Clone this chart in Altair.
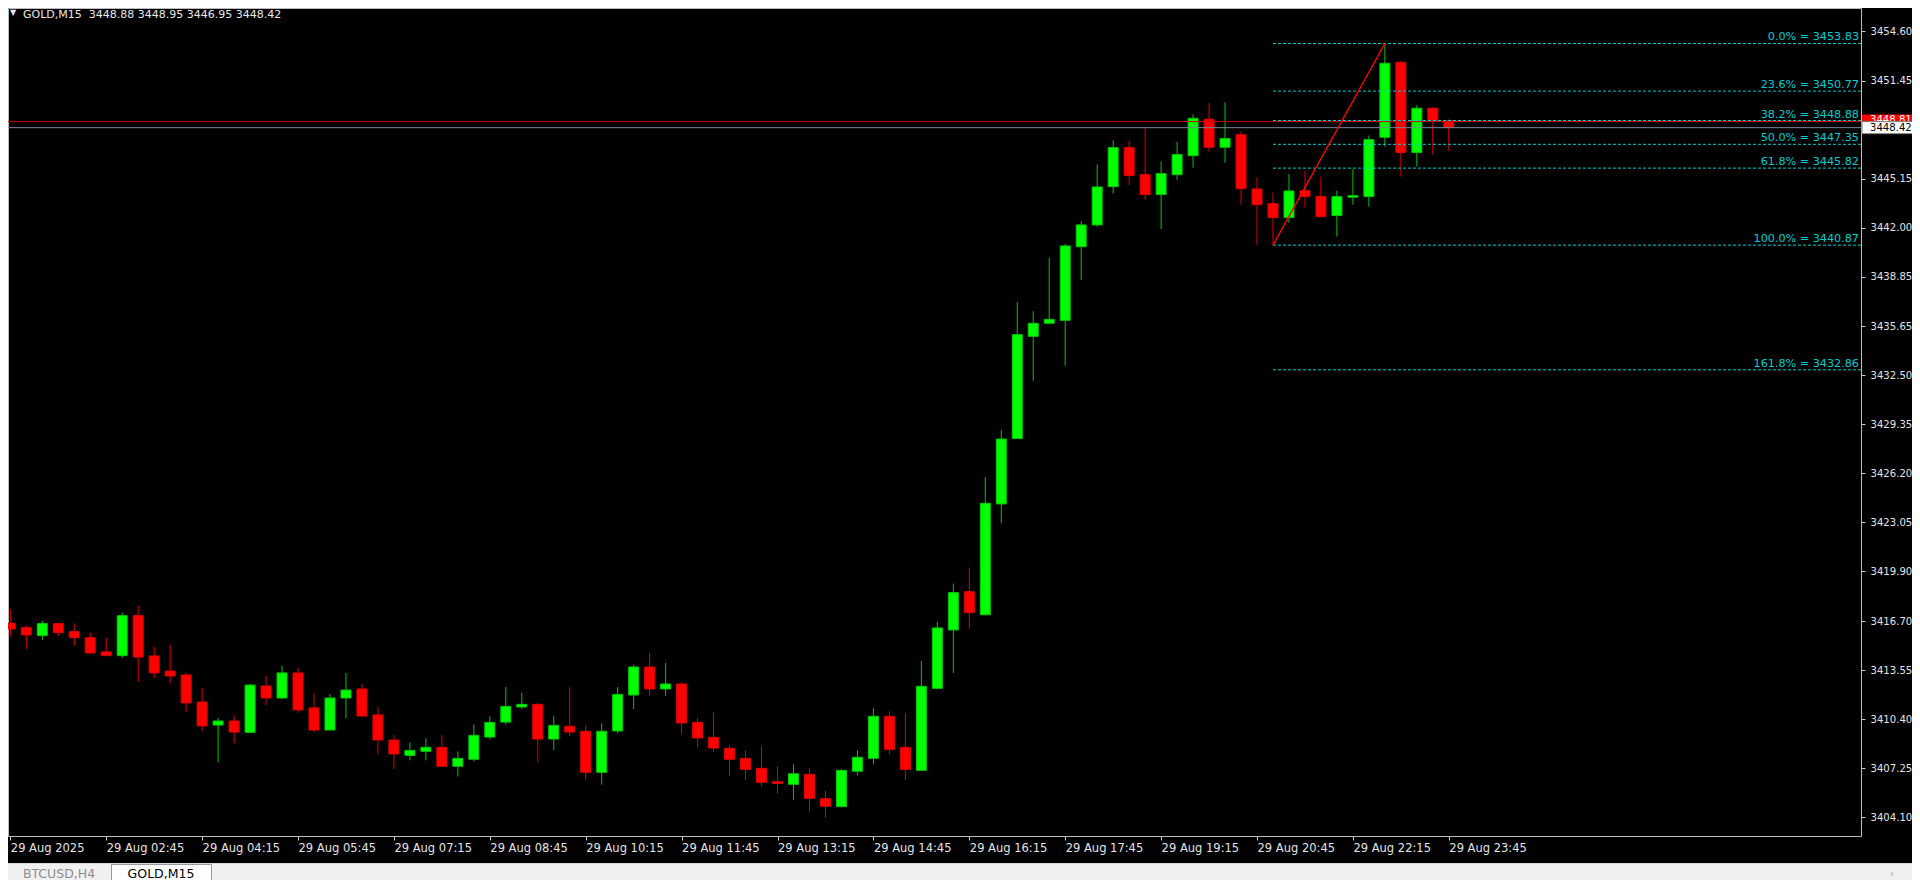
import altair as alt
import pandas as pd

# ---------------- data (GOLD, M15, 29 Aug 2025 01:15 .. 23:45) ----------------
bar_index = list(range(91))

opens = [3416.57, 3416.29, 3415.78, 3416.55, 3416.03, 3415.65, 3414.73, 3414.49, 3417.06, 3414.47,
         3413.50, 3413.25, 3411.51, 3410.03, 3410.29, 3409.56, 3412.54, 3411.77, 3413.38, 3411.13,
         3409.71, 3411.77, 3412.35, 3410.68, 3409.07, 3408.08, 3408.34, 3408.60, 3407.38, 3407.83,
         3409.26, 3410.22, 3411.19, 3411.36, 3409.13, 3409.95, 3409.63, 3406.99, 3409.65, 3411.96,
         3413.76, 3412.35, 3412.67, 3410.20, 3409.24, 3408.53, 3407.89, 3407.25, 3406.39, 3406.22,
         3406.86, 3405.30, 3404.79, 3407.06, 3407.89, 3410.59, 3408.60, 3407.12, 3412.39, 3416.14,
         3418.60, 3417.12, 3424.24, 3428.44, 3435.01, 3435.85, 3436.04, 3440.77, 3442.17, 3444.63,
         3447.14, 3445.40, 3444.12, 3445.40, 3446.62, 3448.96, 3447.16, 3447.97, 3444.48, 3443.54,
         3442.64, 3444.37, 3443.99, 3442.77, 3443.95, 3443.99, 3447.80, 3452.62, 3446.82, 3449.67,
         3448.88]

highs = [3417.49, 3416.42, 3416.72, 3416.55, 3416.57, 3415.97, 3415.63, 3417.25, 3417.70, 3415.05,
         3415.18, 3413.38, 3412.41, 3410.48, 3410.68, 3412.67, 3413.18, 3413.83, 3413.70, 3412.03,
         3412.03, 3413.38, 3412.67, 3411.19, 3409.39, 3408.92, 3409.18, 3409.37, 3408.34, 3410.07,
         3410.59, 3412.47, 3412.09, 3411.45, 3410.59, 3412.47, 3410.01, 3410.14, 3412.47, 3413.89,
         3414.66, 3414.02, 3412.80, 3410.48, 3410.85, 3408.73, 3408.40, 3408.66, 3407.38, 3407.50,
         3407.25, 3405.81, 3407.18, 3408.41, 3411.11, 3410.91, 3410.78, 3414.15, 3416.65, 3419.12,
         3420.15, 3425.97, 3428.99, 3437.22, 3436.62, 3440.05, 3440.95, 3442.42, 3446.05, 3447.61,
         3447.59, 3448.38, 3446.24, 3447.52, 3449.28, 3449.99, 3450.05, 3448.17, 3445.21, 3444.25,
         3445.45, 3445.66, 3445.27, 3444.37, 3445.75, 3447.91, 3453.83, 3452.71, 3449.86, 3449.73,
         3448.95]

lows = [3415.71, 3414.92, 3415.50, 3415.75, 3415.13, 3414.66, 3414.49, 3414.34, 3412.80, 3413.05,
        3412.73, 3410.87, 3409.65, 3407.63, 3408.86, 3409.56, 3411.32, 3411.71, 3410.81, 3409.58,
        3409.71, 3410.48, 3410.61, 3408.17, 3407.21, 3407.76, 3407.76, 3407.38, 3406.73, 3407.70,
        3409.11, 3410.07, 3411.06, 3407.63, 3408.40, 3409.33, 3406.52, 3406.20, 3409.50, 3411.06,
        3411.90, 3411.90, 3409.43, 3408.60, 3408.28, 3406.73, 3406.50, 3406.09, 3405.64, 3405.23,
        3404.46, 3404.08, 3404.72, 3406.80, 3407.51, 3408.15, 3406.48, 3407.12, 3412.33, 3413.38,
        3416.23, 3417.06, 3422.99, 3428.44, 3432.16, 3435.85, 3433.13, 3438.63, 3442.05, 3444.18,
        3444.74, 3443.80, 3441.91, 3445.08, 3445.85, 3446.88, 3446.17, 3443.47, 3440.90, 3440.87,
        3442.30, 3443.28, 3442.70, 3441.42, 3443.47, 3443.35, 3447.20, 3445.27, 3445.92, 3446.69,
        3446.95]

closes = [3416.20, 3415.82, 3416.55, 3415.97, 3415.65, 3414.66, 3414.49, 3417.06, 3414.40, 3413.38,
          3413.18, 3411.45, 3409.97, 3410.29, 3409.58, 3412.60, 3411.77, 3413.38, 3411.00, 3409.71,
          3411.77, 3412.28, 3410.61, 3409.07, 3408.17, 3408.40, 3408.60, 3407.38, 3407.89, 3409.37,
          3410.20, 3411.23, 3411.36, 3409.13, 3410.01, 3409.58, 3406.99, 3409.63, 3412.00, 3413.76,
          3412.35, 3412.67, 3410.16, 3409.20, 3408.55, 3407.83, 3407.18, 3406.35, 3406.28, 3406.90,
          3405.32, 3404.81, 3407.12, 3407.96, 3410.59, 3408.47, 3407.18, 3412.52, 3416.27, 3418.54,
          3417.25, 3424.28, 3428.41, 3435.12, 3435.85, 3436.10, 3440.82, 3442.17, 3444.61, 3447.14,
          3445.34, 3444.12, 3445.47, 3446.69, 3449.02, 3447.16, 3447.72, 3444.50, 3443.47, 3442.64,
          3444.35, 3443.99, 3442.70, 3443.99, 3444.05, 3447.65, 3452.56, 3446.82, 3449.67, 3448.87,
          3448.42]

time_labels = ["29 Aug 2025", "29 Aug 02:45", "29 Aug 04:15", "29 Aug 05:45", "29 Aug 07:15",
               "29 Aug 08:45", "29 Aug 10:15", "29 Aug 11:45", "29 Aug 13:15", "29 Aug 14:45",
               "29 Aug 16:15", "29 Aug 17:45", "29 Aug 19:15", "29 Aug 20:45", "29 Aug 22:15",
               "29 Aug 23:45"]
time_label_bars = [0, 6, 12, 18, 24, 30, 36, 42, 48, 54, 60, 66, 72, 78, 84, 90]

price_ticks = [3404.10, 3407.25, 3410.40, 3413.55, 3416.70, 3419.90, 3423.05, 3426.20, 3429.35,
               3432.50, 3435.65, 3438.85, 3442.00, 3445.15, 3448.30, 3451.45, 3454.60]

fib_levels = ["0.0%", "23.6%", "38.2%", "50.0%", "61.8%", "100.0%", "161.8%"]
fib_prices = [3453.83, 3450.77, 3448.88, 3447.35, 3445.82, 3440.87, 3432.86]
fib_anchor_bars = [79, 86]
fib_anchor_prices = [3440.87, 3453.83]

bid_price = 3448.42
ask_price = 3448.81

header_symbol = "GOLD,M15"
header_ohlc = ["3448.88", "3448.95", "3446.95", "3448.42"]
tab_names = ["BTCUSD,H4", "GOLD,M15"]

# ---------------- layout / style ----------------
W, H = 1853, 828
CW, CH = 1904, 872
GREEN, RED = "#00ff00", "#ff0000"
GREEN_EDGE, RED_EDGE = "#00c800", "#e00000"
TURQ = "#00ced1"
FONT = "DejaVu Sans"
LABEL_COLOR = "#e4e4e4"
PRICE_FS = 10.1

df = pd.DataFrame({"i": bar_index, "open": opens, "high": highs, "low": lows, "close": closes})
df["dir"] = ["up" if c >= o else "down" for o, c in zip(opens, closes)]
df["body_lo"] = df[["open", "close"]].min(axis=1)
df["body_hi"] = df[["open", "close"]].max(axis=1)

xscale = alt.Scale(domain=[0.168, 115.476], nice=False, zero=False)
yscale = alt.Scale(domain=[3402.90, 3456.11], nice=False, zero=False)
fill_scale = alt.Scale(domain=["up", "down"], range=[GREEN, RED])
edge_scale = alt.Scale(domain=["up", "down"], range=[GREEN_EDGE, RED_EDGE])

label_js = "[" + ",".join("'" + t + "'" for t in time_labels) + "]"
bars_js = "[" + ",".join(str(b) for b in time_label_bars) + "]"
x_axis = alt.Axis(values=time_label_bars, labelExpr=label_js + "[indexof(" + bars_js + ", datum.value)]",
                  orient="bottom", title=None, grid=False, domain=False, ticks=True, tickSize=4,
                  tickColor="#c8c8c8", labelColor=LABEL_COLOR, labelFont=FONT, labelFontSize=11.5,
                  labelAlign="left", labelBaseline="top", labelPadding=2, labelOffset=0,
                  labelFlush=False, labelOverlap=False, labelBound=False)
y_axis = alt.Axis(values=price_ticks, format=".2f", orient="right", title=None, grid=False,
                  domain=False, ticks=True, tickSize=4, tickColor="#c8c8c8", labelColor=LABEL_COLOR,
                  labelFont=FONT, labelFontSize=PRICE_FS, labelAlign="left", labelBaseline="middle",
                  labelPadding=5, labelFlush=False, labelOverlap=False, labelBound=False)


def X(field):
    return alt.X(field, scale=xscale, title=None)


def Y(field):
    return alt.Y(field, scale=yscale, title=None)


base = alt.Chart(df)
wicks = base.mark_rule(strokeWidth=1, clip=True).encode(
    x=alt.X("i:Q", scale=xscale, axis=x_axis, title=None),
    y=alt.Y("low:Q", scale=yscale, axis=y_axis, title=None),
    y2="high:Q",
    stroke=alt.Stroke("dir:N", scale=edge_scale, legend=None),
)
bodies = base.mark_bar(size=10, strokeWidth=1, clip=True).encode(
    x=X("i:Q"),
    y=Y("body_lo:Q"),
    y2="body_hi:Q",
    fill=alt.Fill("dir:N", scale=fill_scale, legend=None),
    stroke=alt.Stroke("dir:N", scale=edge_scale, legend=None),
)

# bid / ask lines
bid_df = pd.DataFrame({"price": [bid_price]})
ask_df = pd.DataFrame({"price": [ask_price]})
ask_line = alt.Chart(ask_df).mark_rule(color="#d00000", strokeWidth=1).encode(y=Y("price:Q"))
bid_line = alt.Chart(bid_df).mark_rule(color="#7a8694", strokeWidth=1).encode(y=Y("price:Q"))

# fibonacci retracement
fib_df = pd.DataFrame({"level": fib_levels, "price": fib_prices,
                       "start": [fib_anchor_bars[0]] * len(fib_levels)})
fib_df["label"] = [f"{l} = {p:.2f}" for l, p in zip(fib_levels, fib_prices)]
fib_lines = alt.Chart(fib_df).mark_rule(color=TURQ, strokeWidth=1, strokeDash=[3, 2]).encode(
    x=X("start:Q"), x2=alt.value(W), y=Y("price:Q"))
fib_text = alt.Chart(fib_df).mark_text(align="right", baseline="alphabetic", dy=-3, color=TURQ,
                                       font=FONT, fontSize=11.2).encode(
    x=alt.value(W - 2), y=Y("price:Q"), text="label:N")
trend_df = pd.DataFrame({"i": fib_anchor_bars, "price": fib_anchor_prices})
trend = alt.Chart(trend_df).mark_line(color=RED, strokeWidth=1.4).encode(x=X("i:Q"), y=Y("price:Q"))

# price label boxes on the axis
ask_box = alt.Chart(ask_df).mark_rect(fill="#ff0000", yOffset=-7, y2Offset=5, clip=False).encode(
    x=alt.value(W + 1), x2=alt.value(CW), y=Y("price:Q"), y2="price:Q")
ask_txt = alt.Chart(ask_df).mark_text(align="left", baseline="middle", font=FONT, fontSize=PRICE_FS,
                                      color="#ffffff", clip=False, dy=-2).encode(
    x=alt.value(W + 9), y=Y("price:Q"), text=alt.Text("price:Q", format=".2f"))
bid_box = alt.Chart(bid_df).mark_rect(fill="#ffffff", stroke="#808080", strokeWidth=1,
                                      yOffset=-6, y2Offset=6, clip=False).encode(
    x=alt.value(W + 1), x2=alt.value(CW + 2), y=Y("price:Q"), y2="price:Q")
bid_txt = alt.Chart(bid_df).mark_text(align="left", baseline="middle", font=FONT, fontSize=PRICE_FS,
                                      color="#000000", clip=False).encode(
    x=alt.value(W + 9), y=Y("price:Q"), text=alt.Text("price:Q", format=".2f"))

# header
hdr_df = pd.DataFrame({"t": [header_symbol + "\u00a0\u00a0" + " ".join(header_ohlc)], "tri": ["\u25bc"]})
hdr = alt.Chart(hdr_df).mark_text(align="left", baseline="alphabetic", font=FONT, fontSize=11,
                                  color="#e8e8e8").encode(x=alt.value(15), y=alt.value(9.5), text="t:N")
hdr_tri = alt.Chart(hdr_df).mark_text(align="center", baseline="middle", font=FONT, fontSize=8,
                                      color="#e8e8e8").encode(x=alt.value(5), y=alt.value(5), text="tri:N")

# bottom tab bar
tab_df = pd.DataFrame({"a": [tab_names[0]], "b": [tab_names[1]], "arr": ["\u2039"]})
tab_bg = alt.Chart(tab_df).mark_rect(fill="#f0f0f0", clip=False).encode(
    x=alt.value(-2), x2=alt.value(CW + 2), y=alt.value(855), y2=alt.value(CH + 2))
tab_sep = alt.Chart(tab_df).mark_rule(color="#d4d4d4", strokeWidth=1, clip=False).encode(
    x=alt.value(-2), x2=alt.value(CW + 2), y=alt.value(855.5))
tab_active = alt.Chart(tab_df).mark_rect(fill="#ffffff", stroke="#9a9a9a", strokeWidth=1, clip=False).encode(
    x=alt.value(103.5), x2=alt.value(203.5), y=alt.value(856.5), y2=alt.value(CH + 4))
tab_a = alt.Chart(tab_df).mark_text(align="center", baseline="middle", font=FONT, fontSize=12.5,
                                    color="#8c8c8c", clip=False).encode(
    x=alt.value(51), y=alt.value(866), text="a:N")
tab_b = alt.Chart(tab_df).mark_text(align="center", baseline="middle", font=FONT, fontSize=12.5,
                                    color="#000000", clip=False).encode(
    x=alt.value(153), y=alt.value(866), text="b:N")
tab_arr = alt.Chart(tab_df).mark_text(align="center", baseline="middle", font=FONT, fontSize=11,
                                      color="#a0a0a0", clip=False).encode(
    x=alt.value(1884), y=alt.value(866), text="arr:N")

chart = alt.layer(
    wicks, bodies, ask_line, bid_line, fib_lines, fib_text, trend,
    ask_box, ask_txt, bid_box, bid_txt, hdr, hdr_tri,
    tab_bg, tab_sep, tab_active, tab_a, tab_b, tab_arr,
).properties(
    width=W, height=H, background="#000000",
    padding={"left": 0, "top": 0, "right": CW - W, "bottom": CH - H},
    autosize=alt.AutoSizeParams(type="none"),
).configure_view(stroke="#bcbcbc", strokeWidth=1)

chart.save("out.html", embed_options={"renderer": "svg", "actions": False})
